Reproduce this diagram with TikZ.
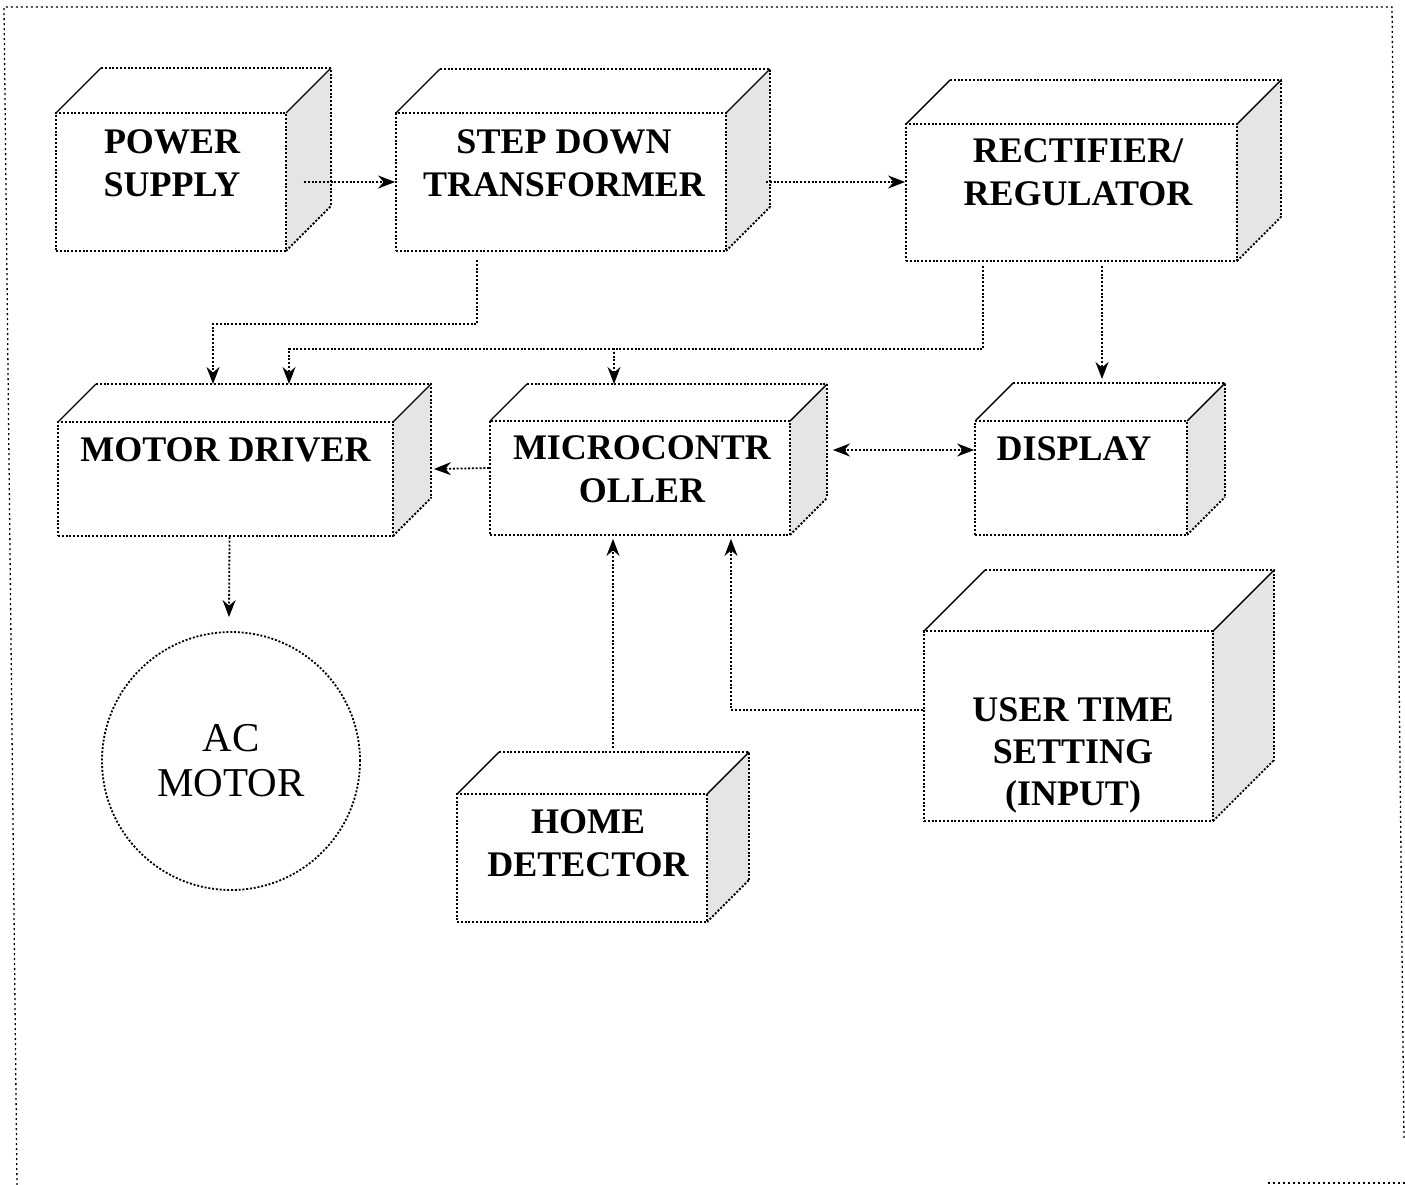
\documentclass[tikz,border=0pt]{standalone}
\usepackage{fontspec}
\setmainfont{Liberation Serif}
\usetikzlibrary{arrows.meta}
\tikzset{
  dots/.style={line width=1.8pt, dash pattern=on 2pt off 1.8pt},
  face/.style={draw, dots, rectangle, inner sep=0pt, fill=white},
  edge3d/.style={draw, line width=1.4pt},
  sideface/.style={fill=gray!20},
  lbl/.style={anchor=north, align=center, inner sep=0pt, font=\bfseries\fontsize{36}{43}\selectfont},
  conn/.style={dots, -{Stealth[length=17pt,width=13pt]}},
  frame/.style={line width=1.3pt, dash pattern=on 2pt off 3pt},
}
% name, x1, y1, x2, y2, depth
\newcommand\cubeboxB[6]{%
  \path[sideface] (#4,#3) -- ++(#6,-#6) -- (#4+#6,#5-#6) -- (#4,#5) -- cycle;
  \draw[dots] (#2+#6,#3-#6) -- (#4+#6,#3-#6) -- (#4+#6,#5-#6);
  \draw[edge3d] (#2,#3) -- ++(#6,-#6);
  \draw[edge3d] (#4,#3) -- ++(#6,-#6);
  \draw[dots] (#4,#5) -- ++(#6,-#6);
  \node[face, minimum width={(#4-#2)*1pt}, minimum height={(#5-#3)*1pt}] (#1) at ({(#2+#4)/2},{(#3+#5)/2}) {};
  \coordinate (#1-top) at ({(#2+#4)/2+#6},{#3-#6});
}
\begin{document}
\begin{tikzpicture}[x=1pt,y=-1pt]
\useasboundingbox (0,0) rectangle (1405,1185);
% outer frame
\draw[frame] (17,1185) -- (4,7) -- (1392,7) -- (1404,1140);
\draw[frame] (1268,1183) -- (1405,1183);

% boxes
\cubeboxB{ps}{56}{113}{286}{251}{45}
\cubeboxB{sd}{396}{113}{726}{251}{44}
\cubeboxB{rr}{906}{124}{1237}{261}{44}
\cubeboxB{md}{58}{422}{393}{536}{38}
\cubeboxB{mc}{490}{421}{790}{535}{37}
\cubeboxB{dp}{975}{421}{1187}{535}{38}
\cubeboxB{ut}{924}{631}{1213}{821}{61}
\cubeboxB{hd}{457}{794}{707}{922}{42}

% labels
\node[lbl] (ps-t) at ([xshift=1pt,yshift=-17pt]ps.north) {POWER\\SUPPLY};
\node[lbl] (sd-t) at ([xshift=3pt,yshift=-17pt]sd.north) {STEP DOWN\\TRANSFORMER};
\node[lbl] (rr-t) at ([xshift=6.5pt,yshift=-15pt]rr.north) {RECTIFIER/\\REGULATOR};
\node[lbl] (md-t) at ([xshift=0pt,yshift=-16pt]md.north) {MOTOR DRIVER};
\node[lbl] (mc-t) at ([xshift=2pt,yshift=-15pt]mc.north) {MICROCONTR\\OLLER};
\node[lbl] (dp-t) at ([xshift=-7pt,yshift=-16pt]dp.north) {DISPLAY};
\node[lbl, font=\bfseries\fontsize{36}{42}\selectfont] (ut-t) at ([xshift=4.5pt,yshift=-67pt]ut.north) {USER TIME\\SETTING\\(INPUT)};
\node[lbl] (hd-t) at ([xshift=6pt,yshift=-16pt]hd.north) {HOME\\DETECTOR};

% AC motor
\node[circle, draw, dots, minimum size=258pt, inner sep=0pt, align=center,
      font=\fontsize{41}{45}\selectfont] (acm) at (231,761) {AC\\MOTOR};

% connectors
\draw[conn] ([xshift=17pt]ps.east) -- (sd.west);
\draw[conn] ([xshift=39pt]sd.east) -- (sd.east -| rr.west);
\draw[conn] ([xshift=-84pt,yshift=-8pt]sd.south) -- ++(0,64) -| ([xshift=-50.5pt]md-top);
\draw[conn] ([xshift=-88.5pt,yshift=-4pt]rr.south) -- ++(0,83) -| ([xshift=25.5pt]md-top);
\path ([xshift=-63pt]mc-top) ++(0,-36) coordinate (j2);
\draw[conn] (j2) -- ([xshift=-63pt]mc-top);
\draw[conn] ([xshift=30.5pt,yshift=-4pt]rr.south) -- ([xshift=-17pt,yshift=4pt]dp-top);
\draw[conn] ([yshift=10pt]mc.west) -- ([xshift=40pt,yshift=10pt]md.east);
\draw[dots, {Stealth[length=17pt,width=13pt]}-{Stealth[length=17pt,width=13pt]}] ([xshift=42pt,yshift=28pt]mc.east) -- ([yshift=28pt]dp.west);
\draw[conn] ([xshift=-11pt,yshift=4pt]hd-top) -- ([xshift=-27pt,yshift=-3pt]mc.south);
\draw[conn] ([yshift=16pt]ut.west) -| ([xshift=91pt,yshift=-3pt]mc.south);
\draw[conn] ([xshift=4pt]md.south) -- ([xshift=-2pt,yshift=14pt]acm.north);
\end{tikzpicture}
\end{document}
